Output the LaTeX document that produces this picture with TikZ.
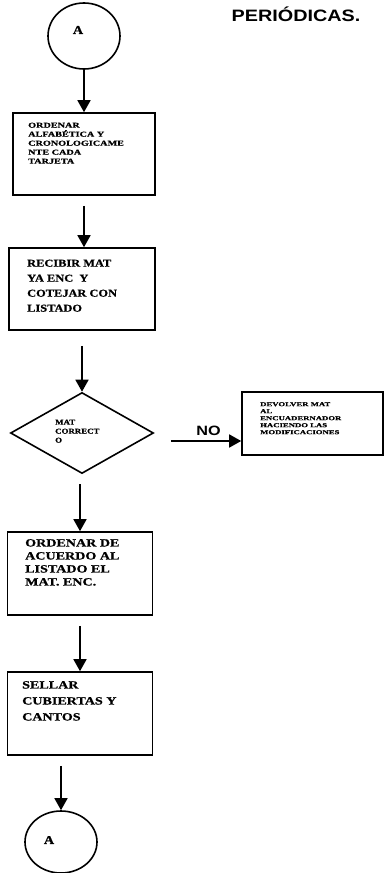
\documentclass[tikz,border=0pt]{standalone}
\usepackage{fontspec}
\setmainfont{Liberation Serif}
\newfontfamily\fAa[FakeStretch=1.36,FakeBold=0.8]{Liberation Serif}
\newfontfamily\fBb[FakeStretch=1.18,FakeBold=0.8]{Liberation Serif}
\newfontfamily\fCc[FakeStretch=1.28,FakeBold=0.8]{Liberation Serif}
\newfontfamily\fDd[FakeStretch=1.45,FakeBold=0.8]{Liberation Serif}
\newfontfamily\fTt[FakeStretch=1.2]{Liberation Sans}
\newfontfamily\fNo[FakeStretch=1.2]{Liberation Sans}
\usetikzlibrary{arrows.meta,shapes.geometric}
\tikzset{
  ln/.style={line width=1.6pt},
  boxn/.style={ln, draw, rectangle, inner sep=0pt},
  circn/.style={ln, draw, ellipse, inner sep=0pt},
  txt/.style={inner sep=0pt, anchor=north west, align=left},
  arr/.style={ln, -{Triangle[length=12pt,width=13pt]}},
}
\begin{document}
\begin{tikzpicture}[x=1pt,y=-1pt]
\useasboundingbox[fill=white] (0,0) rectangle (385,873);

% title
\node[inner sep=0pt, font=\fTt\bfseries\fontsize{16.5}{18}\selectfont] (title) at (296,14) {PERIÓDICAS.};

% top connector
\node[circn, minimum width=72pt, minimum height=66pt] (c1) at (84,36) {};
\node[inner sep=0pt, font=\fBb\bfseries\fontsize{12}{14}\selectfont] (c1t) at (78,30) {A};

% box 1
\node[boxn, minimum width=142pt, minimum height=82pt] (b1) at (84,154) {};
\node[txt, font=\fAa\bfseries\fontsize{7.5}{9}\selectfont] (b1t) at (28,122.5)
  {ORDENAR\\ALFABÉTICA Y\\CRONOLOGICAME\\NTE CADA\\TARJETA};

% box 2
\node[boxn, minimum width=146pt, minimum height=82pt] (b2) at (82,289) {};
\node[txt, font=\fBb\bfseries\fontsize{10.5}{15}\selectfont] (b2t) at (27,259.5)
  {RECIBIR MAT\\YA ENC\ \ Y\\COTEJAR CON\\LISTADO};

% decision
\node[ln, draw, diamond, inner sep=0pt, minimum width=143pt, minimum height=81pt] (d) at (82,433) {};
\node[txt, font=\fBb\bfseries\fontsize{7.5}{9}\selectfont] (dt) at (55,419.5)
  {MAT\\CORRECT\\O};

% right box
\node[boxn, minimum width=141pt, minimum height=63pt] (rb) at (312.5,423.5) {};
\node[txt, font=\fDd\bfseries\fontsize{6}{7}\selectfont] (rbt) at (260,402)
  {DEVOLVER MAT\\AL\\ENCUADERNADOR\\HACIENDO LAS\\MODIFICACIONES};

% box 4
\node[boxn, minimum width=145pt, minimum height=83pt] (b4) at (80,573.5) {};
\node[txt, font=\fCc\bfseries\fontsize{11}{13}\selectfont] (b4t) at (25,539)
  {ORDENAR DE\\ACUERDO AL\\LISTADO EL\\MAT. ENC.};

% box 5
\node[boxn, minimum width=145pt, minimum height=83pt] (b5) at (80,713.5) {};
\node[txt, font=\fCc\bfseries\fontsize{11}{16}\selectfont] (b5t) at (22,681)
  {SELLAR\\CUBIERTAS Y\\CANTOS};

% bottom connector
\node[circn, minimum width=72pt, minimum height=62pt] (c2) at (61,842) {};
\node[inner sep=0pt, font=\fBb\bfseries\fontsize{12}{14}\selectfont] (c2t) at (49,840) {A};

% connectors
\draw[arr] (c1.south) -- (c1.south |- b1.north);
\draw[arr, shorten <=10pt] (b1.south) -- (b1.south |- b2.north);
\draw[arr, shorten <=15pt] (b2.south) -- (d.north);
\draw[arr, shorten <=10pt] (b4.north |- d.south) -- (b4.north);
\draw[arr, shorten <=10pt] (b4.south) -- (b5.north);
\draw[arr, shorten <=10pt] (c2.north |- b5.south) -- (c2.north);

\coordinate (noY) at (0,441);
\draw[arr, shorten <=16.5pt] (d.east |- noY) -- (rb.west |- noY);
\node[inner sep=0pt, font=\fNo\bfseries\fontsize{13.5}{16}\selectfont] (nolab) at (208.5,431) {NO};
\end{tikzpicture}
\end{document}
